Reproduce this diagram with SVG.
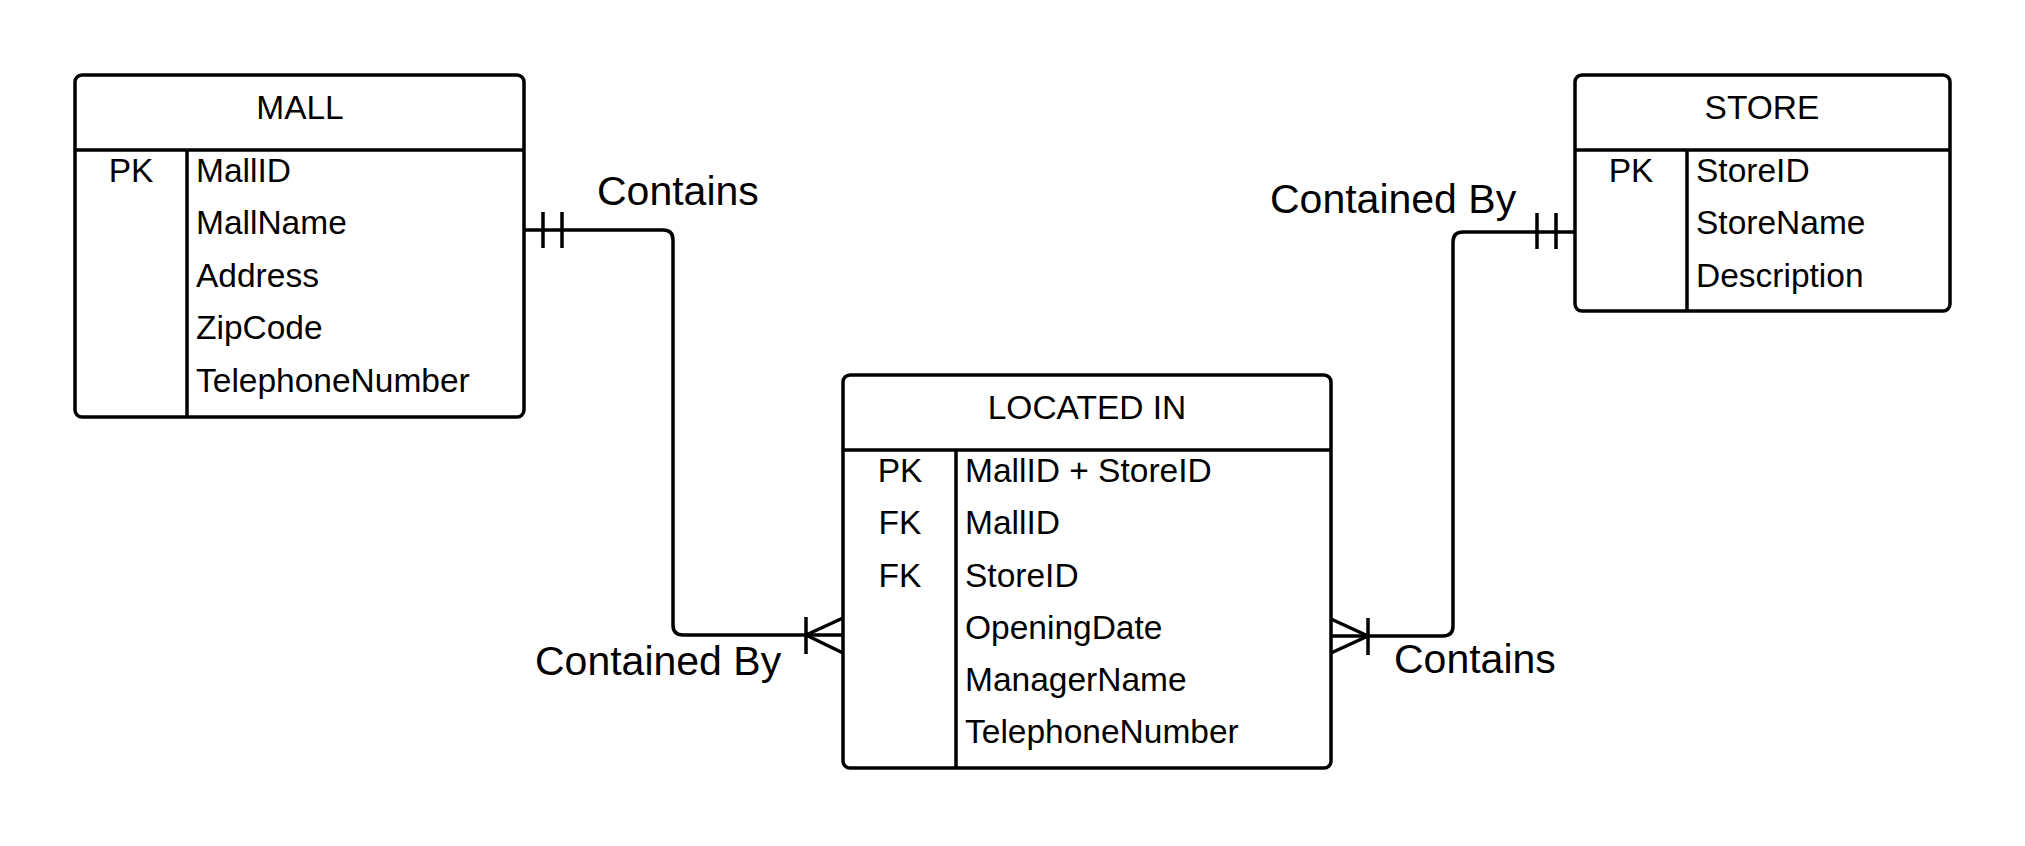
<svg xmlns="http://www.w3.org/2000/svg" width="2025" height="846" viewBox="0 0 2025 846">
<style>
.box{fill:#fff;stroke:#000;stroke-width:3.5}
.ln{fill:none;stroke:#000;stroke-width:3.5}
.t{font-family:"Liberation Sans",Arial,sans-serif;font-size:33.5px;fill:#000}
.c{text-anchor:middle}
.lbl{font-family:"Liberation Sans",Arial,sans-serif;font-size:41px;fill:#000}
.cn{fill:none;stroke:#000;stroke-width:3.5;stroke-linejoin:round}
</style>
<rect width="2025" height="846" fill="#fff"/>
<g id="connectors">
<path class="cn" d="M524,230 H663 Q673,230 673,240 V625 Q673,635 683,635 H843"/>
<path class="cn" d="M543,212 V248 M562,212 V248"/>
<path class="cn" d="M806,617 V654 M806,635 L843,618 M806,635 L843,653"/>
<path class="cn" d="M1331,636 H1443 Q1453,636 1453,626 V242 Q1453,232 1463,232 H1575"/>
<path class="cn" d="M1537,213 V249 M1556,213 V249"/>
<path class="cn" d="M1368,618 V655 M1368,636 L1331,619 M1368,636 L1331,653"/>
<text class="lbl" x="597" y="205">Contains</text>
<text class="lbl" x="535" y="675">Contained By</text>
<text class="lbl" x="1270" y="213">Contained By</text>
<text class="lbl" x="1394" y="673">Contains</text>
</g>
<g id="mall">
<rect class="box" x="75" y="75" width="449" height="342" rx="7"/>
<path class="ln" d="M75,150 H524 M187,150 V417"/>
<text class="t c" x="300" y="119">MALL</text>
<text class="t c" x="131" y="182">PK</text>
<text class="t" x="196" y="182">MallID</text>
<text class="t" x="196" y="234">MallName</text>
<text class="t" x="196" y="287">Address</text>
<text class="t" x="196" y="339">ZipCode</text>
<text class="t" x="196" y="392">TelephoneNumber</text>
</g>
<g id="located_in">
<rect class="box" x="843" y="375" width="488" height="393" rx="7"/>
<path class="ln" d="M843,450 H1331 M956,450 V768"/>
<text class="t c" x="1087" y="419">LOCATED IN</text>
<text class="t c" x="900" y="482">PK</text>
<text class="t c" x="900" y="534">FK</text>
<text class="t c" x="900" y="587">FK</text>
<text class="t" x="965" y="482">MallID + StoreID</text>
<text class="t" x="965" y="534">MallID</text>
<text class="t" x="965" y="587">StoreID</text>
<text class="t" x="965" y="639">OpeningDate</text>
<text class="t" x="965" y="691">ManagerName</text>
<text class="t" x="965" y="743">TelephoneNumber</text>
</g>
<g id="store">
<rect class="box" x="1575" y="75" width="375" height="236" rx="7"/>
<path class="ln" d="M1575,150 H1950 M1687,150 V311"/>
<text class="t c" x="1762" y="119">STORE</text>
<text class="t c" x="1631" y="182">PK</text>
<text class="t" x="1696" y="182">StoreID</text>
<text class="t" x="1696" y="234">StoreName</text>
<text class="t" x="1696" y="287">Description</text>
</g>
</svg>
